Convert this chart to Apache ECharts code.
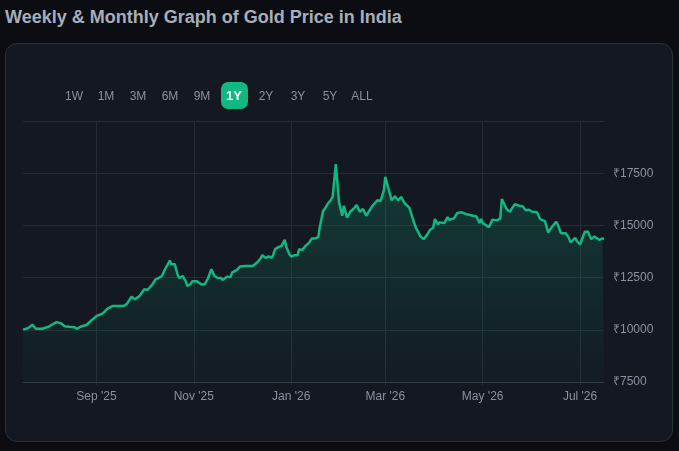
<!DOCTYPE html>
<html>
<head>
    <meta charset="utf-8">
    <title>Gold Price in India</title>
    <script type="text/javascript" src="https://cdn.jsdelivr.net/npm/echarts@6/dist/echarts.min.js"></script>
    <style>
        body { margin: 0; background: #0b0d12; font-family: "Liberation Sans", Arial, sans-serif; }
        #title { position: absolute; left: 5px; top: 7px; font-size: 18px; font-weight: bold; color: #a7aebb; }
        #card { position: absolute; left: 5px; top: 43px; width: 668px; height: 399px; box-sizing: border-box;
                background: #141821; border: 1px solid #22363a; border-radius: 12px; }
        #main { position: absolute; left: 0; top: 0; width: 666px; height: 397px; }
        #ranges { position: absolute; left: 52px; top: 38px; height: 27px; display: flex; align-items: center; z-index: 2; }
        #ranges span { display: block; width: 32px; text-align: center; font-size: 12px; color: #8a919e; }
        #ranges span.on b { display: inline-block; background: #10b981; color: #fff; font-size: 13px;
                            width: 27px; height: 27px; line-height: 27px; border-radius: 7px; }
    </style>
</head>
<body>
<div id="title">Weekly &amp; Monthly Graph of Gold Price in India</div>
<div id="card">
    <div id="ranges"></div>
    <div id="main"></div>
</div>
<script type="text/javascript">
    // range buttons
    var ranges = ['1W', '1M', '3M', '6M', '9M', '1Y', '2Y', '3Y', '5Y', 'ALL'];
    var active = '1Y';

    // price readings (date, ₹ per gram)
    var dates = [
        '2025-07-17', '2025-07-20', '2025-07-23', '2025-07-25', '2025-07-29', '2025-07-31',
        '2025-08-02', '2025-08-04', '2025-08-07', '2025-08-10', '2025-08-12', '2025-08-15',
        '2025-08-18', '2025-08-20', '2025-08-22', '2025-08-26', '2025-08-29',
        '2025-09-01', '2025-09-05', '2025-09-08', '2025-09-11', '2025-09-15', '2025-09-16',
        '2025-09-18', '2025-09-20', '2025-09-23', '2025-09-25', '2025-09-28',
        '2025-10-01', '2025-10-03', '2025-10-06', '2025-10-08', '2025-10-10', '2025-10-12',
        '2025-10-14', '2025-10-15', '2025-10-17', '2025-10-18', '2025-10-20', '2025-10-22',
        '2025-10-23', '2025-10-25', '2025-10-27', '2025-10-28', '2025-10-30', '2025-10-31',
        '2025-11-03', '2025-11-06', '2025-11-08', '2025-11-10', '2025-11-12', '2025-11-14',
        '2025-11-16', '2025-11-18', '2025-11-19', '2025-11-22', '2025-11-24', '2025-11-25',
        '2025-11-28', '2025-11-30',
        '2025-12-03', '2025-12-06', '2025-12-08', '2025-12-11', '2025-12-13', '2025-12-14',
        '2025-12-16', '2025-12-18', '2025-12-20', '2025-12-22', '2025-12-24', '2025-12-26',
        '2025-12-28', '2025-12-29', '2025-12-31',
        '2026-01-01', '2026-01-03', '2026-01-05', '2026-01-06', '2026-01-08', '2026-01-10',
        '2026-01-12', '2026-01-14', '2026-01-16', '2026-01-18', '2026-01-19', '2026-01-21',
        '2026-01-22', '2026-01-24', '2026-01-26', '2026-01-27', '2026-01-29', '2026-01-31',
        '2026-02-02', '2026-02-03', '2026-02-05', '2026-02-07', '2026-02-09', '2026-02-11',
        '2026-02-13', '2026-02-15', '2026-02-17', '2026-02-21', '2026-02-24', '2026-02-26',
        '2026-02-28',
        '2026-03-01', '2026-03-03', '2026-03-05', '2026-03-07', '2026-03-09', '2026-03-11',
        '2026-03-13', '2026-03-16', '2026-03-17', '2026-03-19', '2026-03-20', '2026-03-23',
        '2026-03-25', '2026-03-27', '2026-03-29', '2026-03-31',
        '2026-04-01', '2026-04-03', '2026-04-04', '2026-04-07', '2026-04-09', '2026-04-10',
        '2026-04-13', '2026-04-15', '2026-04-18', '2026-04-21', '2026-04-25', '2026-04-27',
        '2026-04-29', '2026-04-30',
        '2026-05-01', '2026-05-05', '2026-05-07', '2026-05-10', '2026-05-12', '2026-05-13',
        '2026-05-16', '2026-05-18', '2026-05-21', '2026-05-24', '2026-05-26', '2026-05-28',
        '2026-05-30',
        '2026-06-01', '2026-06-04', '2026-06-06', '2026-06-09', '2026-06-11', '2026-06-13',
        '2026-06-16', '2026-06-17', '2026-06-19', '2026-06-22', '2026-06-24', '2026-06-25',
        '2026-06-28', '2026-06-29',
        '2026-07-01', '2026-07-04', '2026-07-06', '2026-07-08', '2026-07-10', '2026-07-13',
        '2026-07-15', '2026-07-16'
    ];
    var prices = [
        10010, 10077, 10241, 10048, 10048, 10096,
        10144, 10241, 10366, 10303, 10173, 10144,
        10125, 10048, 10144, 10241, 10462,
        10654, 10784, 11010, 11135, 11135, 11217,
        11135, 11231, 11587, 11457, 11616,
        11938, 11904, 12164, 12419, 12481, 12577,
        12899, 12962, 13318, 13125, 13154, 12611,
        12481, 12577, 12322, 12096, 12192, 12322,
        12322, 12164, 12192, 12481, 12899, 12577,
        12481, 12481, 12385, 12548, 12515, 12741,
        12866, 13029,
        13058, 13058, 13058, 13250, 13443, 13572,
        13443, 13510, 13443, 13861, 13957, 14020,
        14308, 13957, 13606,
        13510, 13572, 13572, 13861, 13827, 14020,
        14150, 14375, 14375, 14438, 14952, 15688,
        15784, 16039, 16231, 16361, 17933, 16106,
        15462, 15943, 15366, 15654, 15784, 15977,
        15654, 15784, 15462, 15943, 16202, 16169,
        16650,
        17323, 16746, 16202, 16395, 16202, 16361,
        16073, 15847, 15784, 15145, 14919, 14472,
        14342, 14534, 14789, 14885,
        15303, 15049, 15145, 15111, 15400, 15270,
        15337, 15592, 15626, 15530, 15462, 15433,
        15111, 15303,
        15111, 14919, 15270, 15241, 15337, 16265,
        15784, 15654, 16010, 15943, 15914, 15722,
        15750,
        15654, 15626, 15303, 15207, 14664, 14885,
        15174, 15049, 14630, 14630, 14404, 14183,
        14404, 14245,
        14087, 14693, 14693, 14342, 14472, 14308,
        14375, 14342
    ];

    var yTicks = [7500, 10000, 12500, 15000, 17500, 20000];
    var monthNames = ['Jan', 'Feb', 'Mar', 'Apr', 'May', 'Jun', 'Jul', 'Aug', 'Sep', 'Oct', 'Nov', 'Dec'];
    var labelMonths = [8, 10, 0, 2, 4, 6]; // Sep, Nov, Jan, Mar, May, Jul

    var box = document.getElementById('ranges');
    ranges.forEach(function (r) {
        var s = document.createElement('span');
        if (r === active) {
            s.className = 'on';
            s.innerHTML = '<b>' + r + '</b>';
        } else {
            s.textContent = r;
        }
        box.appendChild(s);
    });

    // one category per day across the year shown
    var days = [];
    var t0 = Date.UTC(2025, 6, 17);
    for (var i = 0; i < 365; i++) {
        days.push(new Date(t0 + i * 86400000).toISOString().slice(0, 10));
    }

    function isLabelDay(idx, value) {
        var d = new Date(value + 'T00:00:00Z');
        return d.getUTCDate() === 1 && labelMonths.indexOf(d.getUTCMonth()) >= 0;
    }

    var myChart = echarts.init(document.getElementById('main'));

    var option = {
        animation: false,
        grid: { left: 17, right: 68, top: 77, bottom: 59 },
        xAxis: {
            type: 'category',
            data: days,
            boundaryGap: false,
            axisLine: { lineStyle: { color: '#343a45' } },
            axisTick: { show: true, interval: isLabelDay, length: 3, lineStyle: { color: '#2a303a' } },
            axisLabel: {
                interval: isLabelDay,
                color: '#8a919e',
                fontSize: 12,
                margin: 9,
                formatter: function (v) {
                    var d = new Date(v + 'T00:00:00Z');
                    return monthNames[d.getUTCMonth()] + " '" + String(d.getUTCFullYear()).slice(2);
                }
            },
            splitLine: { show: true, interval: isLabelDay, lineStyle: { color: '#252a34' } }
        },
        yAxis: {
            type: 'value',
            position: 'right',
            min: yTicks[0],
            max: yTicks[yTicks.length - 1],
            interval: 2500,
            axisLine: { show: false },
            axisTick: { show: false },
            axisLabel: {
                color: '#8a919e',
                fontSize: 12,
                margin: 9,
                showMaxLabel: false,
                formatter: function (v) { return '₹' + v; }
            },
            splitLine: { lineStyle: { color: '#252a34' } }
        },
        series: [{
            type: 'line',
            data: dates.map(function (d, i) { return [days.indexOf(d), prices[i]]; }),
            showSymbol: false,
            lineStyle: { color: '#10b981', width: 2.5 },
            itemStyle: { color: '#10b981' },
            areaStyle: {
                color: new echarts.graphic.LinearGradient(0, 0, 0, 1, [
                    { offset: 0, color: 'rgba(16,185,129,0.32)' },
                    { offset: 1, color: 'rgba(16,185,129,0.03)' }
                ])
            }
        }]
    };

    myChart.setOption(option);
</script>
</body>
</html>
